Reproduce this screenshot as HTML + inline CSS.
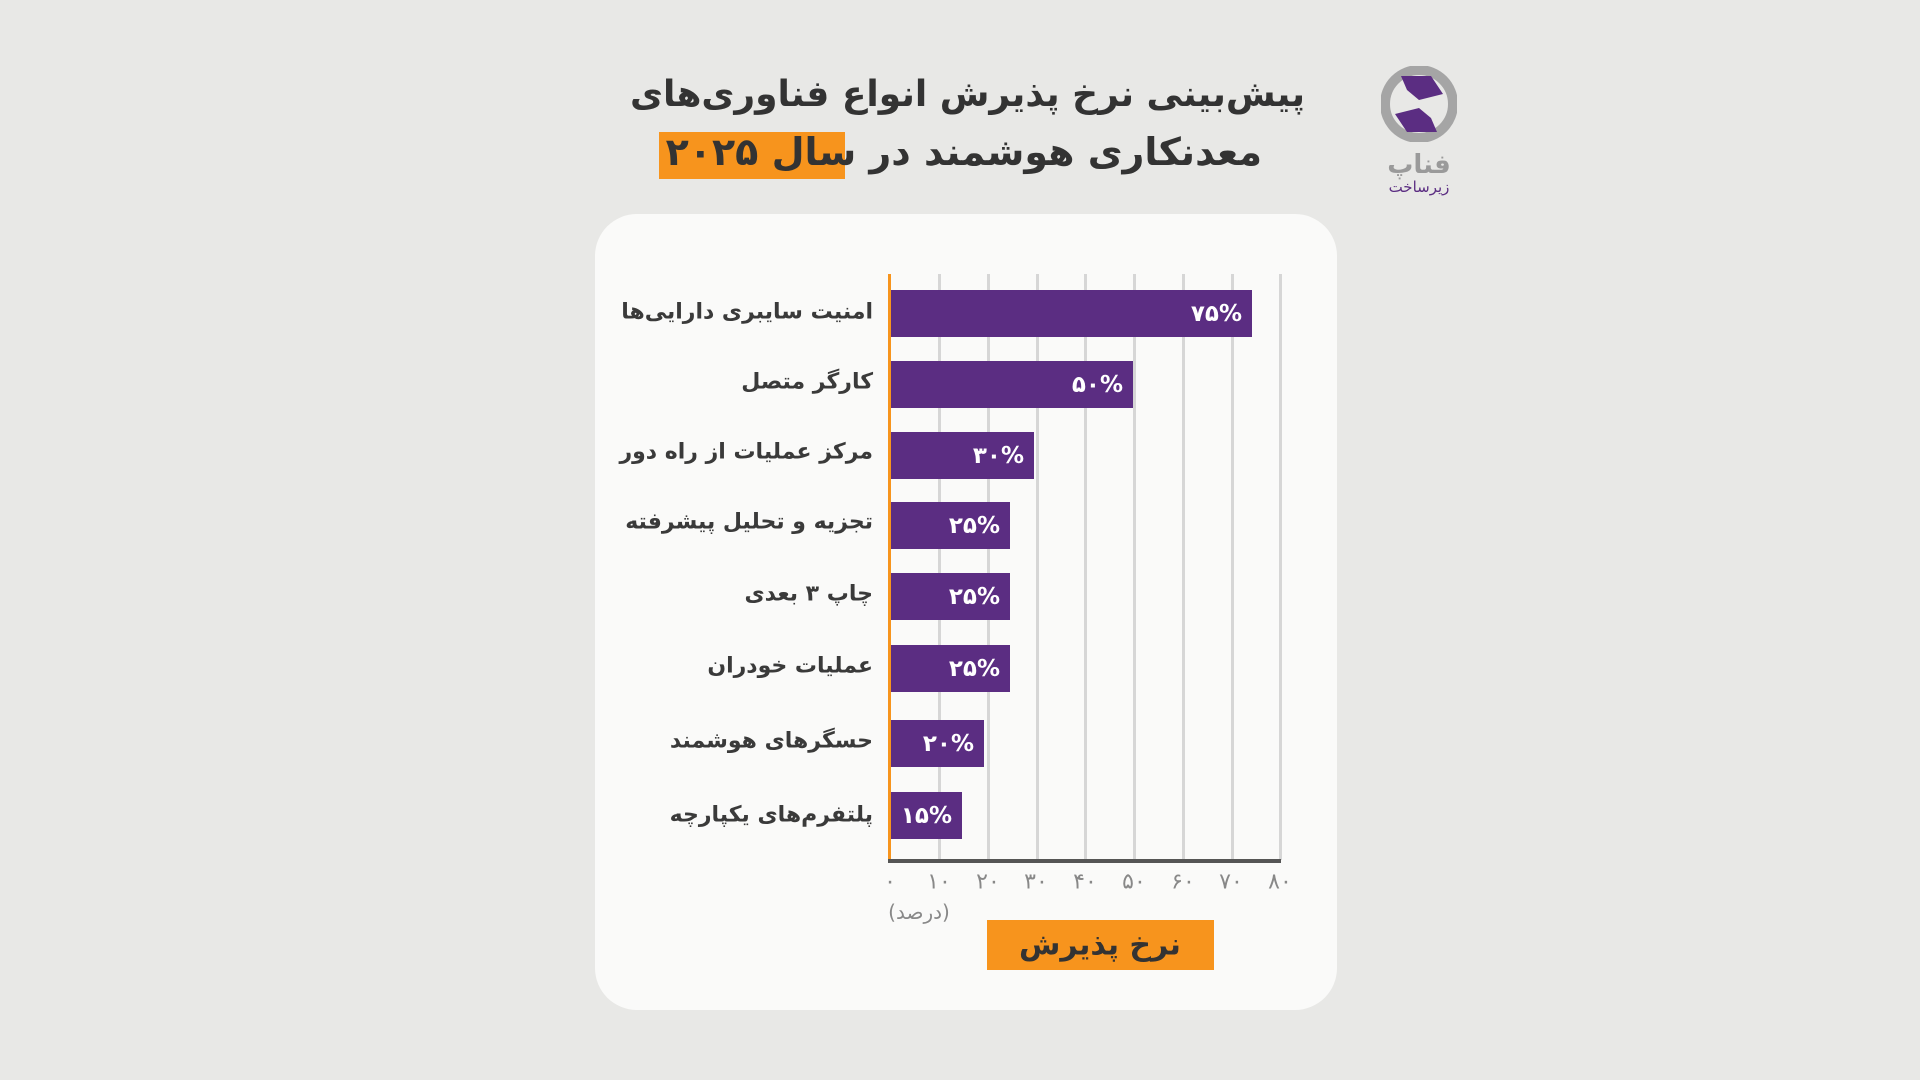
<!DOCTYPE html>
<html><head><meta charset="utf-8"><style>
body{margin:0;width:1920px;height:1080px;background:#e8e8e6;position:relative;overflow:hidden;font-family:"DejaVu Sans","Liberation Sans",sans-serif;}
.a{position:absolute;}
.lbl{position:absolute;right:1047px;font-size:22px;font-weight:bold;color:#3a3a3a;direction:rtl;white-space:nowrap;transform:translateY(-50%);}
.bar{position:absolute;left:891px;background:#5b2d82;height:47px;}
.bar span{position:absolute;right:10px;top:50%;transform:translateY(-50%);color:#fff;font-weight:bold;font-size:23px;}
.grid{position:absolute;top:274px;height:586px;width:3px;background:#d6d6d6;}
.tick{position:absolute;top:882px;transform:translate(-50%,-50%);color:#888;font-size:22px;}
</style></head><body>
<div class="a" style="left:1305px;top:74px;transform:translateX(-100%);font-size:36px;font-weight:bold;color:#333;direction:rtl;white-space:nowrap;">پیش‌بینی نرخ پذیرش انواع فناوری‌های</div>
<div class="a" style="left:659px;top:132px;width:186px;height:47px;background:#f7941d;"></div>
<div class="a" style="left:1262px;top:130px;transform:translateX(-100%);font-size:38px;font-weight:bold;color:#333;direction:rtl;white-space:nowrap;">معدنکاری هوشمند در سال ۲۰۲۵</div>
<svg class="a" style="left:1381px;top:66px" width="76" height="76" viewBox="0 0 76 76">
<circle cx="38" cy="38" r="34" fill="none" stroke="#a5a5a5" stroke-width="10"/>
<path d="M20 10 L50 10 L62 28 L38 34 L26 24Z M56 66 L26 66 L14 48 L38 42 L50 52Z" fill="#5b2d82"/>
</svg>
<div class="a" style="left:1419px;top:150px;transform:translateX(-50%);font-size:26px;font-weight:bold;color:#9a9a9a;">فناپ</div>
<div class="a" style="left:1419px;top:178px;transform:translateX(-50%);font-size:15px;color:#5b2d82;">زیرساخت</div>
<div class="a" style="left:595px;top:214px;width:742px;height:796px;background:#fafaf9;border-radius:42px;"></div>
<div class="grid" style="left:938px"></div><div class="grid" style="left:987px"></div><div class="grid" style="left:1036px"></div><div class="grid" style="left:1084px"></div><div class="grid" style="left:1133px"></div><div class="grid" style="left:1182px"></div><div class="grid" style="left:1231px"></div><div class="grid" style="left:1279px"></div>
<div class="a" style="left:888px;top:274px;width:3px;height:588px;background:#f7941d;"></div>
<div class="a" style="left:888px;top:859px;width:393px;height:4px;background:#555;"></div>
<div class="bar" style="top:290px;width:361px"><span>۷۵%</span></div>
<div class="bar" style="top:361px;width:242px"><span>۵۰%</span></div>
<div class="bar" style="top:432px;width:143px"><span>۳۰%</span></div>
<div class="bar" style="top:502px;width:119px"><span>۲۵%</span></div>
<div class="bar" style="top:573px;width:119px"><span>۲۵%</span></div>
<div class="bar" style="top:645px;width:119px"><span>۲۵%</span></div>
<div class="bar" style="top:720px;width:93px"><span>۲۰%</span></div>
<div class="bar" style="top:792px;width:71px"><span>۱۵%</span></div>
<div class="lbl" style="top:312px">امنیت سایبری دارایی‌ها</div>
<div class="lbl" style="top:382px">کارگر متصل</div>
<div class="lbl" style="top:452px">مرکز عملیات از راه دور</div>
<div class="lbl" style="top:522px">تجزیه و تحلیل پیشرفته</div>
<div class="lbl" style="top:594px">چاپ ۳ بعدی</div>
<div class="lbl" style="top:666px">عملیات خودران</div>
<div class="lbl" style="top:741px">حسگرهای هوشمند</div>
<div class="lbl" style="top:815px">پلتفرم‌های یکپارچه</div>
<div class="tick" style="left:890px">۰</div><div class="tick" style="left:939px">۱۰</div><div class="tick" style="left:988px">۲۰</div><div class="tick" style="left:1036px">۳۰</div><div class="tick" style="left:1085px">۴۰</div><div class="tick" style="left:1134px">۵۰</div><div class="tick" style="left:1183px">۶۰</div><div class="tick" style="left:1231px">۷۰</div><div class="tick" style="left:1280px">۸۰</div>
<div class="a" style="left:919px;top:912px;transform:translate(-50%,-50%);color:#888;font-size:20px;direction:rtl;">(درصد)</div>
<div class="a" style="left:987px;top:920px;width:227px;height:50px;background:#f7941d;"></div>
<div class="a" style="left:1100px;top:945px;transform:translate(-50%,-50%);font-size:30px;font-weight:bold;color:#333;direction:rtl;white-space:nowrap;">نرخ پذیرش</div>
</body></html>
